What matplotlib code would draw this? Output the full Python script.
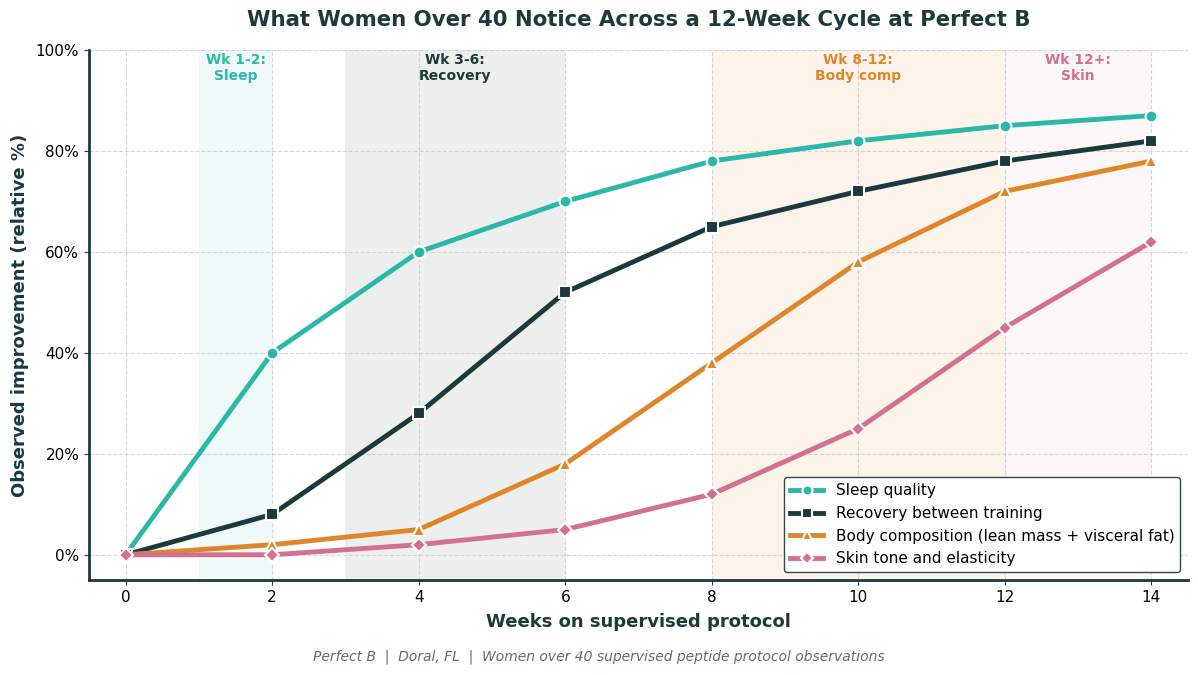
import numpy as np
import matplotlib.pyplot as plt
from matplotlib.ticker import FuncFormatter

weeks = [0, 2, 4, 6, 8, 10, 12, 14]
sleep = [0, 40, 60, 70, 78, 82, 85, 87]
recovery = [0, 8, 28, 52, 65, 72, 78, 82]
body = [0, 2, 5, 18, 38, 58, 72, 78]
skin = [0, 0, 2, 5, 12, 25, 45, 62]

labels = ['Sleep quality', 'Recovery between training',
          'Body composition (lean mass + visceral fat)', 'Skin tone and elasticity']

# fases del protocolo
phases = [(1, 2, 'Wk 1-2:\nSleep'), (3, 6, 'Wk 3-6:\nRecovery'),
          (8, 12, 'Wk 8-12:\nBody comp'), (12, 14, 'Wk 12+:\nSkin')]

teal = '#2bb8a8'
dark = '#1b3a3d'
orange = '#e0862a'
pink = '#d4708f'
colors = [teal, dark, orange, pink]
markers = ['o', 's', '^', 'D']
phase_alpha = [0.08, 0.08, 0.09, 0.06]

fig = plt.figure(figsize=(11.98, 6.75), dpi=100)
ax = fig.add_axes([0.0743, 0.1407, 0.9174, 0.7853])

for (x0, x1, txt), c, a in zip(phases, colors, phase_alpha):
    ax.axvspan(x0, x1, color=c, alpha=a, lw=0, zorder=0)
    ax.text((x0 + x1) / 2, 99.3, txt, ha='center', va='top', fontsize=10,
            fontweight='bold', color=c, linespacing=1.1)

for ys, lab, c, m in zip([sleep, recovery, body, skin], labels, colors, markers):
    ms = 7.5 if m == 'D' else 8.5
    ax.plot(weeks, ys, color=c, lw=3.5, marker=m, ms=ms, mfc=c, mec='white',
            mew=1.5, label=lab, zorder=3)

ax.set_xlim(-0.5, 14.5)
ax.set_ylim(-5, 100)
ax.set_xticks(weeks)
ax.set_yticks([0, 20, 40, 60, 80, 100])
ax.yaxis.set_major_formatter(FuncFormatter(lambda v, p: f'{v:.0f}%'))
ax.tick_params(labelsize=11, colors='black')
ax.tick_params(axis='both', color=dark)
ax.grid(True, ls='--', color='#cccccc', lw=0.8, alpha=0.8)
ax.set_axisbelow(True)

for s in ['top', 'right']:
    ax.spines[s].set_visible(False)
for s in ['left', 'bottom']:
    ax.spines[s].set_color(dark)
    ax.spines[s].set_linewidth(2)

ax.set_xlabel('Weeks on supervised protocol', fontsize=13, fontweight='bold', color=dark, labelpad=6)
ax.set_ylabel('Observed improvement (relative %)', fontsize=13, fontweight='bold', color=dark, labelpad=5)
ax.set_title('What Women Over 40 Notice Across a 12-Week Cycle at Perfect B',
             fontsize=15.3, fontweight='bold', color=dark, pad=17)

leg = ax.legend(loc='lower right', fontsize=11, frameon=True, framealpha=1,
                edgecolor='#2f4a4c', borderpad=0.4, handlelength=2.2, markerscale=0.85)
leg.get_frame().set_linewidth(1)

fig.text(0.5, 0.0267, 'Perfect B  |  Doral, FL  |  Women over 40 supervised peptide protocol observations',
         ha='center', va='center', fontsize=10, style='italic', color='#5f6f6f')

fig.savefig('out.png', dpi=100)
